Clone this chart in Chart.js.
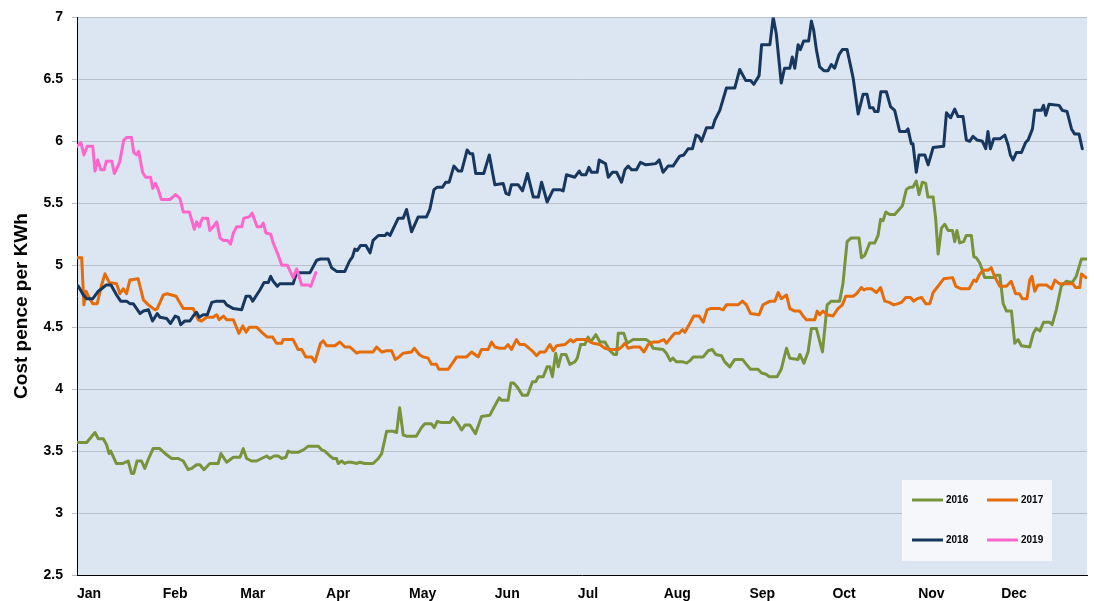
<!DOCTYPE html>
<html>
<head>
<meta charset="utf-8">
<script src="https://cdn.jsdelivr.net/npm/chart.js@4.4.1/dist/chart.umd.min.js"></script>
<style>
    html, body { margin: 0; padding: 0; background: #fff; }
    #wrap { width: 1094px; height: 601px; }
</style>
</head>
<body>
<div id="wrap"><canvas id="costChart" width="1094" height="601"></canvas></div>
<script>
// Month labels and the day of year each month starts on
const monthLabels = ['Jan', 'Feb', 'Mar', 'Apr', 'May', 'Jun', 'Jul', 'Aug', 'Sep', 'Oct', 'Nov', 'Dec'];
const monthStarts = [0, 31, 59, 90, 120, 151, 181, 212, 243, 273, 304, 334];
const yTicks = [2.5, 3, 3.5, 4, 4.5, 5, 5.5, 6, 6.5, 7];
const seriesNames = ['2016', '2017', '2018', '2019'];

// [day of year, pence per KWh]
const cost2016 = [
    [0,3.57],[3.5,3.57],[6.5,3.65],[7.7,3.60],[9.5,3.60],[10.7,3.55],[11.6,3.48],[12.2,3.50],[14.2,3.40],[16.6,3.40],
    [18.5,3.42],[19.7,3.32],[20.5,3.32],[21.7,3.42],[23.3,3.42],[24.5,3.36],[25.7,3.43],[27.5,3.52],[29.9,3.52],[32.4,3.47],
    [34.2,3.44],[36.6,3.44],[38.4,3.42],[40.2,3.35],[41.4,3.36],[43.2,3.39],[44.4,3.39],[45.9,3.35],[48.0,3.40],[51.0,3.40],
    [52.0,3.48],[54.1,3.41],[56.5,3.45],[58.9,3.45],[60.1,3.52],[61.3,3.44],[63.1,3.42],[64.9,3.42],[66.7,3.44],[68.5,3.46],
    [69.7,3.44],[71.2,3.46],[72.7,3.46],[74.0,3.44],[75.5,3.45],[76.3,3.50],[77.5,3.49],[79.9,3.49],[81.8,3.51],[83.6,3.54],
    [87.2,3.54],[88.4,3.51],[89.6,3.50],[91.4,3.46],[92.6,3.44],[93.8,3.44],[94.4,3.40],[95.6,3.42],[96.8,3.40],[97.7,3.41],
    [99.2,3.41],[101.1,3.40],[102.2,3.41],[104.0,3.40],[107.0,3.40],[108.9,3.44],[110.1,3.48],[111.9,3.66],[114.3,3.66],[115.5,3.65],
    [116.6,3.85],[117.9,3.63],[119.1,3.62],[122.6,3.62],[124.5,3.69],[125.7,3.72],[128.1,3.72],[129.1,3.69],[130.2,3.74],[131.7,3.73],
    [134.8,3.73],[135.9,3.77],[137.4,3.73],[139.0,3.67],[140.2,3.71],[142.0,3.71],[144.0,3.64],[146.2,3.78],[149.2,3.79],[150.6,3.85],
    [152.6,3.93],[153.4,3.91],[155.8,3.91],[156.8,4.05],[157.8,4.05],[159.0,4.02],[161.0,3.95],[162.8,3.95],[164.6,4.06],[165.8,4.06],
    [166.7,4.10],[168.5,4.10],[169.9,4.18],[170.9,4.18],[171.8,4.10],[173.0,4.29],[173.9,4.18],[175.1,4.28],[176.7,4.28],[178.1,4.20],
    [179.9,4.22],[180.8,4.25],[182.0,4.36],[183.5,4.36],[184.7,4.42],[185.6,4.38],[187.5,4.44],[189.0,4.38],[190.8,4.38],[192.6,4.31],
    [194.0,4.28],[195.0,4.28],[195.6,4.45],[197.6,4.45],[198.8,4.37],[201.0,4.40],[205.6,4.40],[207.0,4.38],[208.2,4.33],[211.8,4.32],
    [213.0,4.29],[214.4,4.23],[215.4,4.25],[216.6,4.22],[219.0,4.22],[220.3,4.21],[221.5,4.23],[222.7,4.26],[226.3,4.26],[228.1,4.31],
    [229.6,4.32],[230.8,4.28],[232.9,4.27],[234.1,4.22],[235.9,4.18],[237.7,4.24],[240.5,4.24],[241.9,4.20],[243.4,4.16],[246.1,4.16],
    [247.4,4.13],[249.1,4.12],[250.1,4.10],[253.0,4.10],[254.5,4.16],[256.4,4.33],[257.6,4.25],[260.6,4.24],[261.2,4.28],[262.7,4.21],
    [264.2,4.30],[265.4,4.49],[267.2,4.49],[269.4,4.30],[271.1,4.68],[272.6,4.71],[275.6,4.71],[276.8,4.85],[278.3,5.19],[279.8,5.22],
    [282.6,5.22],[283.5,5.06],[284.7,5.08],[286.5,5.18],[288.3,5.18],[289.5,5.24],[290.4,5.37],[291.3,5.36],[292.3,5.43],[293.7,5.41],
    [295.5,5.41],[298.3,5.48],[299.7,5.61],[300.9,5.63],[302.1,5.63],[303.3,5.68],[304.3,5.57],[305.5,5.67],[306.7,5.66],[307.5,5.55],
    [309.4,5.55],[310.3,5.38],[311.2,5.09],[312.4,5.30],[313.6,5.33],[314.8,5.28],[316.4,5.28],[317.2,5.19],[318.0,5.28],[319.0,5.18],
    [320.4,5.19],[321.4,5.24],[323.2,5.24],[324.1,5.07],[325.0,5.06],[326.2,5.02],[327.2,4.96],[328.0,4.90],[331.0,4.90],[332.5,4.92],
    [333.5,4.92],[334.7,4.69],[335.9,4.63],[337.7,4.63],[338.9,4.37],[340.1,4.40],[341.3,4.35],[344.3,4.34],[345.6,4.45],[346.6,4.49],
    [348.0,4.47],[349.3,4.54],[351.5,4.54],[352.4,4.52],[353.9,4.64],[355.7,4.83],[357.5,4.87],[359.7,4.86],[361.1,4.91],[363.0,5.05],
    [364.8,5.05]
];

const cost2017 = [
    [0,5.06],[1.7,5.06],[2.5,4.68],[3.3,4.79],[4.1,4.75],[5.7,4.69],[7.3,4.69],[8.9,4.84],[10.1,4.93],[11.7,4.86],
    [14.3,4.85],[15.5,4.77],[16.7,4.81],[17.9,4.77],[19.1,4.88],[22.1,4.89],[24.0,4.72],[25.8,4.68],[28.2,4.64],[29.0,4.65],
    [31.2,4.76],[32.6,4.77],[34.2,4.76],[35.8,4.75],[38.4,4.65],[42.0,4.65],[43.8,4.56],[45.0,4.55],[46.9,4.58],[49.2,4.58],
    [50.5,4.60],[51.4,4.56],[52.9,4.59],[54.1,4.56],[56.5,4.56],[58.5,4.45],[59.9,4.51],[61.1,4.46],[62.3,4.50],[64.9,4.50],
    [66.7,4.46],[68.8,4.42],[70.7,4.42],[72.1,4.37],[74.0,4.37],[74.5,4.40],[78.1,4.40],[79.9,4.32],[81.2,4.32],[82.7,4.26],
    [84.8,4.26],[86.0,4.22],[88.0,4.37],[89.0,4.39],[90.2,4.35],[93.2,4.35],[95.0,4.38],[96.8,4.34],[98.6,4.34],[101.1,4.29],
    [102.2,4.30],[107.0,4.30],[108.3,4.34],[110.1,4.30],[111.9,4.31],[113.7,4.31],[115.0,4.24],[116.4,4.26],[117.9,4.29],[120.9,4.30],
    [121.9,4.33],[123.7,4.28],[125.1,4.26],[126.9,4.25],[128.1,4.20],[129.9,4.20],[130.8,4.16],[134.1,4.16],[135.7,4.21],[137.2,4.26],
    [140.8,4.26],[142.6,4.30],[143.8,4.28],[145.0,4.26],[146.2,4.32],[148.6,4.32],[149.8,4.38],[151.0,4.34],[152.8,4.33],[154.6,4.33],
    [155.8,4.36],[157.0,4.32],[158.8,4.40],[160.0,4.36],[161.8,4.36],[163.4,4.33],[164.9,4.30],[166.1,4.27],[167.3,4.30],[169.1,4.30],
    [170.9,4.36],[172.1,4.31],[173.3,4.35],[176.3,4.36],[178.4,4.40],[179.3,4.38],[180.5,4.40],[184.1,4.40],[186.5,4.37],[188.9,4.36],
    [190.8,4.33],[192.6,4.32],[195.6,4.32],[196.8,4.34],[198.0,4.37],[199.2,4.33],[201.0,4.34],[203.4,4.34],[204.9,4.30],[206.4,4.36],
    [208.2,4.38],[210.0,4.38],[212.1,4.40],[213.0,4.37],[214.8,4.42],[216.0,4.45],[217.6,4.45],[218.8,4.48],[219.7,4.46],[221.2,4.52],
    [222.9,4.59],[224.8,4.59],[226.3,4.54],[227.7,4.64],[228.9,4.65],[232.3,4.65],[233.5,4.64],[234.7,4.68],[238.9,4.68],[240.5,4.71],
    [241.9,4.68],[243.4,4.61],[246.5,4.60],[247.9,4.68],[250.4,4.71],[252.2,4.71],[253.4,4.78],[254.5,4.73],[256.4,4.76],[257.6,4.65],
    [259.4,4.63],[261.2,4.63],[262.4,4.59],[263.6,4.56],[266.6,4.56],[267.5,4.63],[268.4,4.60],[269.6,4.63],[271.1,4.60],[273.2,4.59],
    [275.0,4.65],[276.6,4.68],[277.8,4.75],[280.5,4.75],[281.7,4.77],[283.5,4.82],[284.4,4.80],[285.3,4.81],[287.1,4.81],[288.9,4.78],
    [290.4,4.82],[291.9,4.71],[293.5,4.70],[295.2,4.68],[296.7,4.69],[298.0,4.70],[299.5,4.74],[301.2,4.74],[302.4,4.71],[303.6,4.73],
    [305.2,4.74],[306.7,4.69],[308.2,4.69],[309.4,4.78],[310.8,4.82],[313.2,4.89],[316.4,4.90],[317.6,4.83],[319.6,4.81],[322.4,4.81],
    [324.1,4.88],[325.0,4.87],[326.0,4.92],[327.4,4.96],[329.2,4.96],[330.4,4.98],[331.6,4.91],[333.5,4.83],[335.9,4.83],[337.6,4.87],
    [339.2,4.77],[340.6,4.77],[341.6,4.73],[343.3,4.73],[344.3,4.88],[345.1,4.91],[346.1,4.79],[347.3,4.84],[350.3,4.84],[352.2,4.81],
    [353.4,4.88],[355.1,4.85],[359.9,4.85],[360.9,4.82],[362.4,4.82],[363.0,4.93],[364.6,4.90]
];

const cost2018 = [
    [0,4.84],[0.5,4.83],[2.3,4.76],[3.5,4.73],[5.7,4.73],[7.7,4.79],[8.9,4.81],[10.5,4.84],[12.3,4.84],[14.3,4.76],
    [15.8,4.71],[17.9,4.71],[19.1,4.69],[20.3,4.69],[22.8,4.61],[24.0,4.63],[25.8,4.64],[27.3,4.55],[29.0,4.61],[30.0,4.58],
    [32.4,4.57],[33.8,4.53],[35.5,4.59],[36.6,4.58],[37.5,4.52],[39.0,4.55],[40.8,4.55],[42.0,4.59],[43.2,4.62],[44.2,4.58],
    [45.6,4.60],[47.1,4.60],[48.7,4.70],[50.5,4.71],[53.1,4.71],[54.1,4.68],[56.5,4.65],[59.5,4.64],[61.1,4.75],[62.5,4.75],
    [63.5,4.71],[66.1,4.80],[67.6,4.86],[69.1,4.86],[70.0,4.91],[70.9,4.87],[72.4,4.83],[73.3,4.85],[78.1,4.85],[79.4,4.94],
    [84.2,4.94],[86.6,5.04],[88.0,5.05],[90.8,5.05],[92.0,4.98],[93.8,4.95],[96.8,4.95],[98.4,5.03],[99.6,5.07],[100.4,5.13],
    [101.3,5.12],[102.5,5.16],[104.4,5.16],[105.9,5.10],[107.0,5.20],[108.9,5.24],[111.3,5.24],[112.1,5.26],[113.1,5.24],[116.1,5.38],
    [117.9,5.38],[119.1,5.45],[120.9,5.27],[123.3,5.39],[126.3,5.39],[127.5,5.45],[129.0,5.61],[130.2,5.63],[132.1,5.63],[133.3,5.67],
    [134.5,5.67],[136.2,5.80],[137.8,5.76],[139.0,5.76],[141.0,5.93],[142.0,5.90],[143.0,5.90],[144.1,5.74],[147.0,5.74],[149.0,5.89],
    [151.0,5.65],[154.0,5.66],[155.0,5.58],[156.1,5.57],[157.0,5.65],[159.4,5.65],[161.0,5.60],[162.8,5.74],[164.9,5.55],[166.7,5.55],
    [167.9,5.67],[169.9,5.51],[172.1,5.61],[174.5,5.61],[175.7,5.60],[176.9,5.73],[179.9,5.71],[181.5,5.76],[182.3,5.73],[183.9,5.73],
    [185.0,5.79],[185.9,5.75],[188.0,5.75],[188.7,5.85],[190.1,5.83],[191.0,5.82],[192.0,5.71],[193.5,5.75],[195.0,5.75],[196.8,5.67],
    [198.0,5.77],[199.2,5.80],[200.4,5.77],[202.2,5.77],[203.6,5.83],[205.6,5.81],[209.2,5.82],[210.4,5.85],[211.8,5.75],[213.6,5.80],
    [215.4,5.80],[217.8,5.88],[219.3,5.89],[220.9,5.94],[222.4,5.94],[223.7,6.05],[224.7,6.04],[225.7,6.00],[227.5,6.11],[229.7,6.11],
    [230.5,6.17],[232.3,6.25],[234.7,6.43],[237.7,6.43],[239.5,6.58],[241.7,6.49],[243.4,6.49],[244.6,6.46],[246.5,6.53],[247.4,6.78],
    [250.4,6.78],[251.6,7.00],[252.7,6.87],[254.5,6.47],[255.7,6.59],[257.6,6.59],[258.5,6.68],[259.4,6.59],[260.6,6.78],[261.4,6.74],
    [262.6,6.81],[264.4,6.81],[265.4,6.97],[266.2,6.90],[267.2,6.74],[268.4,6.60],[269.9,6.57],[271.4,6.57],[272.6,6.62],[273.8,6.59],
    [275.4,6.70],[276.6,6.74],[278.3,6.74],[280.5,6.51],[282.3,6.22],[284.1,6.38],[285.5,6.38],[286.5,6.27],[287.7,6.27],[288.3,6.24],
    [289.5,6.24],[290.5,6.40],[292.5,6.40],[294.0,6.28],[295.5,6.25],[297.3,6.08],[299.5,6.08],[300.3,6.10],[301.5,5.98],[302.1,5.98],
    [303.3,5.75],[304.3,5.89],[306.4,5.89],[307.6,5.81],[309.4,5.95],[313.2,5.96],[314.2,6.23],[315.7,6.19],[317.2,6.26],[318.4,6.20],
    [320.2,6.20],[321.4,6.01],[322.6,6.00],[323.8,6.04],[325.3,6.01],[327.2,6.00],[328.4,5.94],[329.2,6.08],[330.1,5.94],[331.3,6.02],
    [333.5,6.02],[335.3,6.05],[336.5,5.97],[337.3,5.89],[338.3,5.85],[339.5,5.91],[341.3,5.91],[342.8,5.99],[343.7,6.01],[345.3,6.10],
    [346.1,6.25],[348.5,6.25],[349.3,6.29],[350.1,6.21],[351.3,6.30],[354.9,6.29],[356.1,6.25],[357.8,6.24],[359.4,6.10],[360.5,6.06],
    [362.1,6.06],[363.3,5.94]
];

const cost2019 = [
    [0,5.96],[1.4,5.99],[2.5,5.89],[3.7,5.96],[5.7,5.96],[6.5,5.76],[7.5,5.85],[8.6,5.77],[9.8,5.77],[10.6,5.84],
    [12.6,5.84],[13.5,5.74],[15.4,5.83],[16.9,6.01],[17.9,6.03],[19.7,6.03],[20.5,5.91],[21.5,5.89],[22.3,5.92],[23.7,5.75],
    [24.8,5.71],[26.6,5.71],[27.4,5.62],[28.3,5.66],[29.2,5.62],[30.5,5.53],[33.6,5.53],[35.6,5.57],[37.2,5.54],[38.4,5.43],
    [40.6,5.43],[42.4,5.29],[43.2,5.35],[44.2,5.31],[45.3,5.38],[47.2,5.38],[48.0,5.28],[49.2,5.31],[50.5,5.35],[51.7,5.22],
    [52.9,5.20],[54.4,5.20],[55.5,5.17],[56.5,5.26],[57.7,5.31],[59.5,5.31],[60.3,5.38],[62.2,5.39],[63.3,5.42],[65.1,5.31],
    [66.5,5.31],[67.3,5.34],[68.3,5.26],[70.0,5.25],[70.9,5.18],[72.4,5.10],[74.0,5.00],[76.0,5.00],[78.1,4.90],[79.4,4.97],
    [81.2,4.84],[83.6,4.84],[84.5,4.83],[86.3,4.94]
];

const seriesData = [cost2016, cost2017, cost2018, cost2019];
const seriesColors = ['#77933c', '#e46c0a', '#17375e', '#ff66cc'];

const FONT = 'Arial, "Liberation Sans", sans-serif';

// Plot area fill
const plotBackground = {
    id: 'plotBackground',
    beforeDraw(chart) {
        const { ctx, chartArea: a } = chart;
        ctx.save();
        ctx.fillStyle = '#dce6f2';
        ctx.fillRect(a.left, a.top, a.right - a.left, a.bottom - a.top);
        ctx.restore();
    }
};

// Rotated y axis title
const yTitle = {
    id: 'yTitle',
    afterDraw(chart) {
        const { ctx } = chart;
        ctx.save();
        ctx.translate(22, 306);
        ctx.rotate(-Math.PI / 2);
        ctx.font = 'bold 19px ' + FONT;
        ctx.fillStyle = '#000';
        ctx.textAlign = 'center';
        ctx.textBaseline = 'middle';
        ctx.fillText('Cost pence per KWh', 0, 0);
        ctx.restore();
    }
};

// Legend box inside the plot, bottom right, two columns
const boxLegend = {
    id: 'boxLegend',
    afterDatasetsDraw(chart) {
        const { ctx, chartArea: a } = chart;
        const left = a.right - 185, top = a.bottom - 95;
        ctx.save();
        ctx.fillStyle = '#f5f7fb';
        ctx.fillRect(left, top, 150, 81);
        ctx.font = 'bold 10px ' + FONT;
        ctx.textBaseline = 'middle';
        ctx.fillStyle = '#000';
        chart.data.datasets.forEach((ds, i) => {
            const x = left + 10 + (i % 2) * 75;
            const y = top + 20 + Math.floor(i / 2) * 40;
            ctx.strokeStyle = ds.borderColor;
            ctx.lineWidth = 3;
            ctx.beginPath();
            ctx.moveTo(x, y);
            ctx.lineTo(x + 31, y);
            ctx.stroke();
            ctx.fillText(ds.label, x + 34, y + 0.5);
        });
        ctx.restore();
    }
};

function initCostChart() {
    const ctx = document.getElementById('costChart').getContext('2d');
    new Chart(ctx, {
        type: 'line',
        data: {
            datasets: seriesNames.map((name, i) => ({
                label: name,
                data: seriesData[i].map(p => ({ x: p[0], y: p[1] })),
                borderColor: seriesColors[i],
                backgroundColor: seriesColors[i],
                borderWidth: 3,
                pointRadius: 0,
                tension: 0,
                borderJoinStyle: 'round',
                borderCapStyle: 'round',
                fill: false,
                order: seriesNames.length - i
            }))
        },
        options: {
            responsive: false,
            animation: false,
            devicePixelRatio: 1,
            events: [],
            layout: { padding: { top: 17, right: 7, left: 0, bottom: 0 } },
            plugins: {
                legend: { display: false },
                tooltip: { enabled: false },
                title: { display: false }
            },
            scales: {
                x: {
                    type: 'linear',
                    min: 0,
                    max: 365,
                    afterFit(scale) { scale.height = 26; },
                    afterBuildTicks(scale) { scale.ticks = monthStarts.map(v => ({ value: v })); },
                    grid: { drawOnChartArea: false, drawTicks: false },
                    border: { display: true, color: '#000', width: 1 },
                    ticks: {
                        autoSkip: false,
                        maxRotation: 0,
                        minRotation: 0,
                        align: 'start',
                        padding: 11,
                        color: '#000',
                        font: { family: FONT, size: 14, weight: 'bold' },
                        callback: v => monthLabels[monthStarts.indexOf(v)]
                    }
                },
                y: {
                    min: 2.5,
                    max: 7,
                    afterFit(scale) { scale.width = 77; },
                    afterBuildTicks(scale) { scale.ticks = yTicks.map(v => ({ value: v })); },
                    grid: { color: '#b8bfc8', lineWidth: 1, tickLength: 5 },
                    border: { display: true, color: '#000', width: 1 },
                    ticks: {
                        padding: 9,
                        color: '#000',
                        font: { family: FONT, size: 14, weight: 'bold' },
                        callback: v => String(v)
                    }
                }
            }
        },
        plugins: [plotBackground, boxLegend, yTitle]
    });
}

document.addEventListener('DOMContentLoaded', initCostChart);
</script>
</body>
</html>
